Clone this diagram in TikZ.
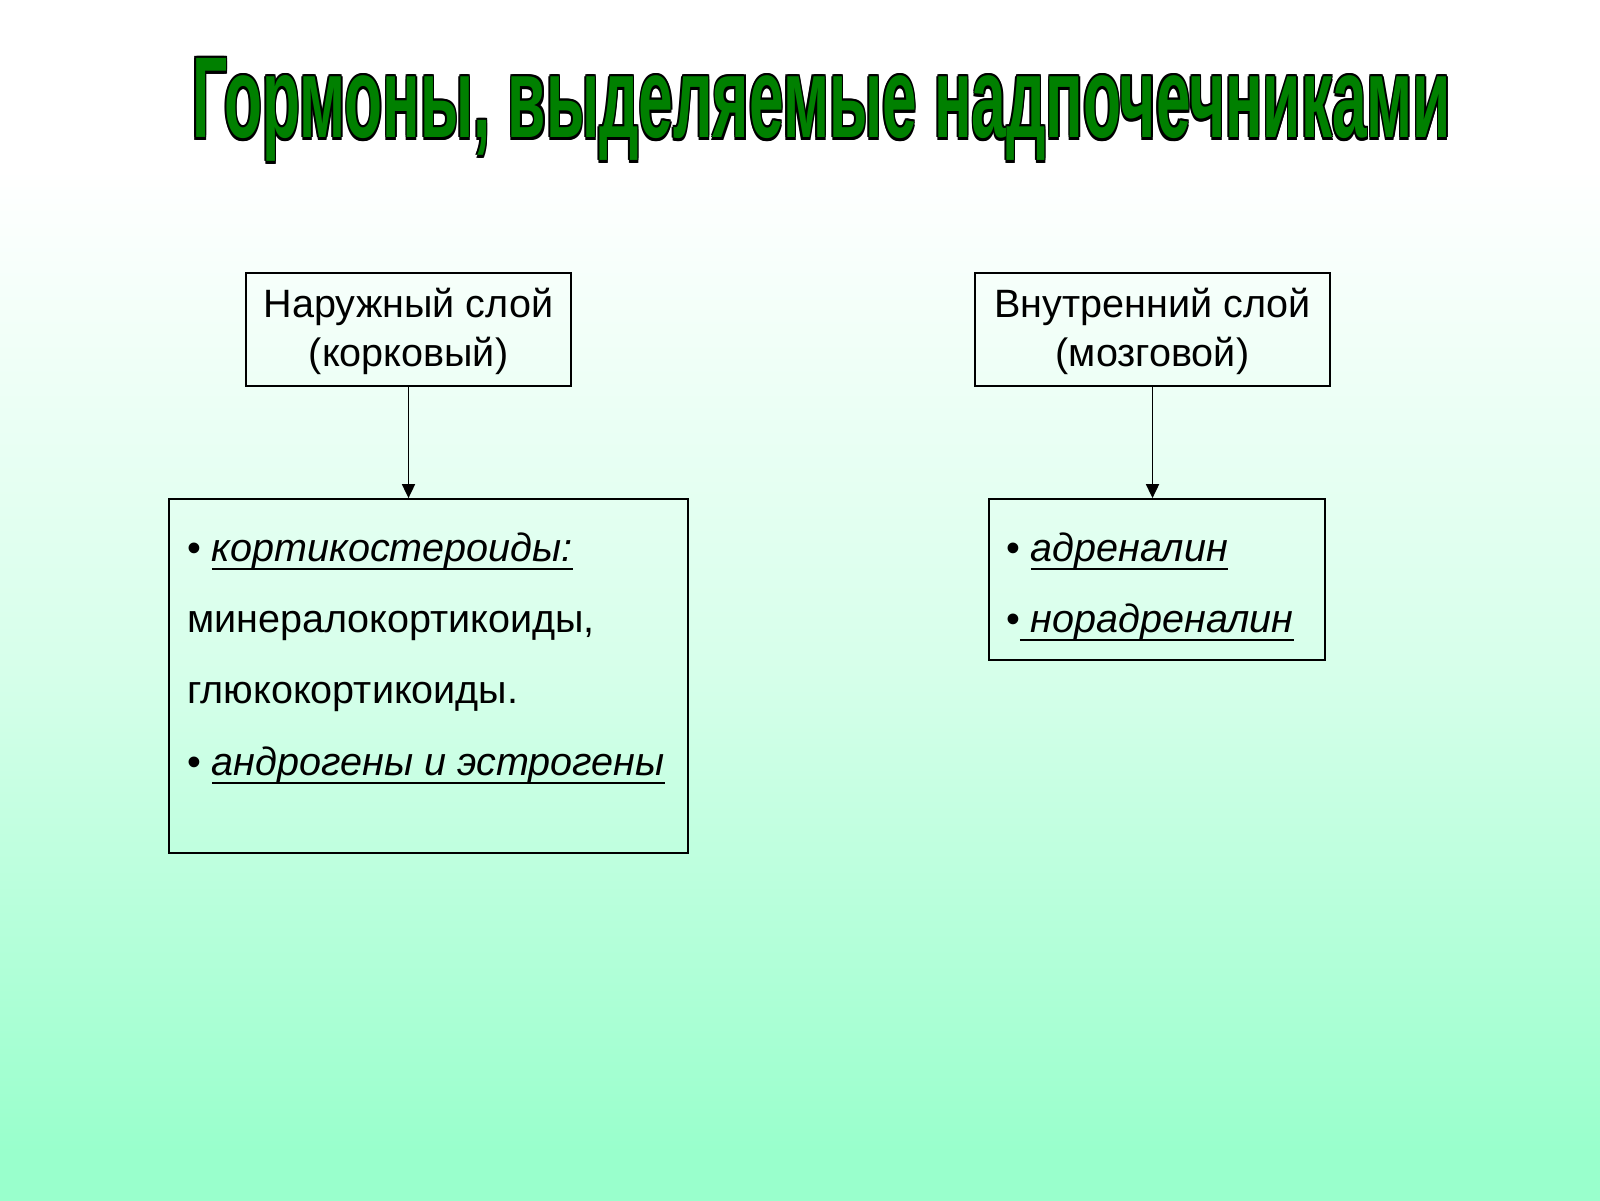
\documentclass[tikz,border=0pt]{standalone}
\usepackage{fontspec}
\setmainfont{Liberation Sans}
\usepackage{graphicx}
\usetikzlibrary{arrows.meta,positioning}

\definecolor{mint}{RGB}{153,255,204}
\definecolor{paleMint}{RGB}{214,255,234}
\definecolor{titleGreen}{RGB}{0,128,0}
\pgfdeclareverticalshading{slidebg}{100bp}{color(0bp)=(mint); color(27bp)=(mint);
  color(47bp)=(paleMint); color(68bp)=(white); color(100bp)=(white)}

% underlined word
\newcommand{\uword}[1]{\setbox0\hbox{#1}\rlap{\rule[-0.22em]{\wd0}{0.6pt}}\box0}
% black rim round the title
\newcommand{\rimtext}[1]{\leavevmode\rlap{\color{black}%
    \rlap{\kern0.5pt#1}\rlap{\kern-0.5pt#1}%
    \rlap{\raisebox{0.5pt}{#1}}\rlap{\raisebox{-0.5pt}{#1}}%
    \rlap{\kern0.35pt\raisebox{0.35pt}{#1}}\rlap{\kern-0.35pt\raisebox{0.35pt}{#1}}%
    \rlap{\kern0.35pt\raisebox{-0.35pt}{#1}}\rlap{\kern-0.35pt\raisebox{-0.35pt}{#1}}}%
  #1}

\begin{document}
\begin{tikzpicture}[->,>={Triangle[length=1.4mm,width=1.3mm]},line width=0.5pt,
                    layer/.style={draw,inner sep=0pt,font=\fontsize{11.25}{13.9}\selectfont},
                    hormones/.style={draw,inner sep=0pt,font=\fontsize{11.25}{20.3}\selectfont}]
  %\shade[top color=white,bottom color=mint] (0,0) rectangle (16,12);
  \shade[shading=slidebg] (0,0) rectangle (16,12);

  \node (title) [anchor=base,inner sep=0pt] at (8.215,10.62)
    {\resizebox{12.59cm}{0.82cm}{\fontsize{20}{24}\bfseries\color{titleGreen}%
      \rimtext{Гормоны, выделяемые надпочечниками}}};

  \node[layer] (cortex)  at (4.085,8.705)
    {\parbox[c][1.13cm][t]{3.25cm}{\centering\rule{0pt}{0.45cm}Наружный слой\\(корковый)}};
  \node[layer] (medulla) at (11.525,8.705)
    {\parbox[c][1.13cm][t]{3.55cm}{\centering\rule{0pt}{0.45cm}Внутренний слой\\(мозговой)}};

  \node[hormones] (cortexlist) at (4.285,5.24)
    {\parbox[c][3.54cm][t]{5.19cm}{\leftskip=0.18cm\rule{0pt}{0.62cm}%
      • \uword{\textit{кортикостероиды:}}\\
      минералокортикоиды,\\
      глюкокортикоиды.\\
      • \uword{\textit{андрогены и эстрогены}}}};
  \node[hormones] (medullalist) at (11.57,6.205)
    {\parbox[c][1.61cm][t]{3.36cm}{\leftskip=0.17cm\rule{0pt}{0.62cm}%
      • \uword{\textit{адреналин}}\\
      •\uword{\ \textit{норадреналин}}}};

  \draw (cortex.south)  -- (cortex.south |- cortexlist.north);
  \draw (medulla.south) -- (medulla.south |- medullalist.north);
\end{tikzpicture}
\end{document}
